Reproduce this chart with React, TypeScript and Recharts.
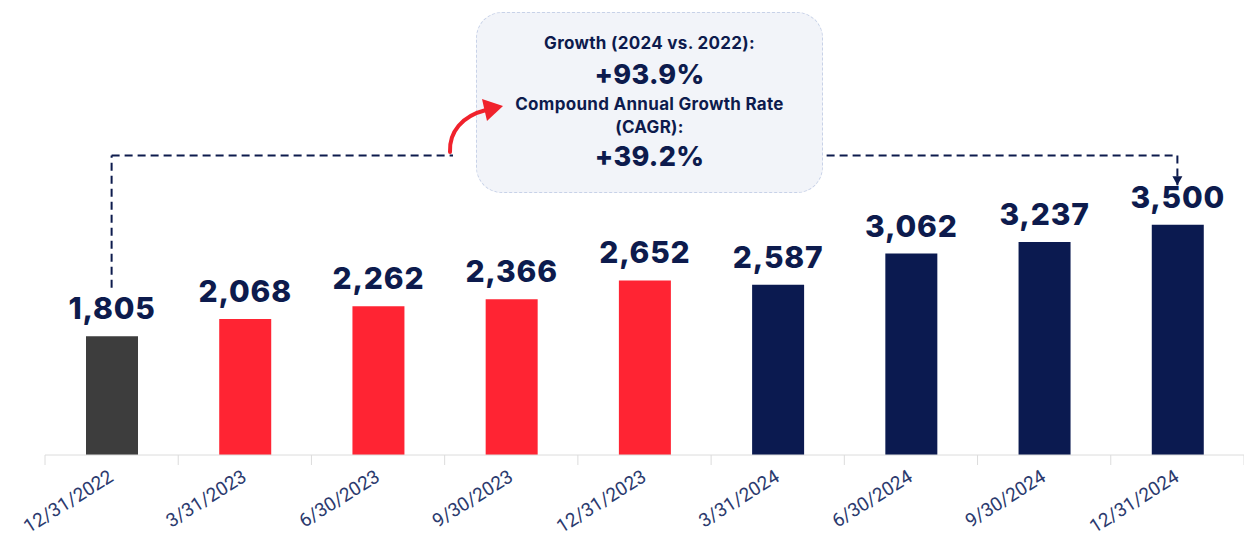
import { Bar, BarChart, Cell, LabelList, ReferenceDot, ReferenceLine, XAxis, YAxis } from 'recharts'

const categories = [
  '12/31/2022',
  '3/31/2023',
  '6/30/2023',
  '9/30/2023',
  '12/31/2023',
  '3/31/2024',
  '6/30/2024',
  '9/30/2024',
  '12/31/2024',
]
const values = [1805, 2068, 2262, 2366, 2652, 2587, 3062, 3237, 3500]
const barColors = ['#3d3d3d', '#ff2433', '#ff2433', '#ff2433', '#ff2433', '#0b1a50', '#0b1a50', '#0b1a50', '#0b1a50']

// connector line levels (data units)
const connectorLevel = 4550
const leftDropEnd = 2540
const rightDropEnd = 4100

const W = 1244
const H = 541
const MARGIN = { top: 126, right: 0, left: 45, bottom: 0 }
const HALF_BAND = (W - MARGIN.left - MARGIN.right) / categories.length / 2

const NAVY = '#0d1b4d'
const data = categories.map((date, i) => ({ date, value: values[i] }))

function DateTick({ x, y, payload, index }: any) {
  const last = index === categories.length - 1
  return (
    <g>
      <line x1={x - HALF_BAND} y1={y - 8} x2={x - HALF_BAND} y2={y + 2} stroke="#dcdcdc" />
      {last && <line x1={x + HALF_BAND} y1={y - 8} x2={x + HALF_BAND} y2={y + 2} stroke="#dcdcdc" />}
      <text
        x={x + 3}
        y={y + 17}
        transform={`rotate(-32, ${x + 3}, ${y + 17})`}
        textAnchor="end"
        fill="#2b3a6e"
        fontFamily="Roboto, sans-serif"
        fontSize={19}
      >
        {payload.value}
      </text>
    </g>
  )
}

function ValueLabel({ x, y, width, value }: any) {
  return (
    <text
      x={x + width / 2}
      y={y - 17}
      textAnchor="middle"
      fill={NAVY}
      fontFamily="Inter, sans-serif"
      fontWeight={800}
      fontSize={30}
      letterSpacing={0.8}
    >
      {Number(value).toLocaleString('en-US')}
    </text>
  )
}

function ArrowHead({ cx, cy }: any) {
  return <path d={`M${cx - 5},${cy - 9} L${cx + 5},${cy - 9} L${cx},${cy} Z`} fill={NAVY} />
}

const line = { stroke: NAVY, strokeWidth: 2, strokeDasharray: '8 5' }

export default function App() {
  return (
    <div style={{ position: 'relative', width: W, height: H, background: '#fff' }}>
      <style>{'body{margin:0}'}</style>
      <BarChart width={W} height={H} data={data} margin={MARGIN}>
        <XAxis
          dataKey="date"
          interval={0}
          height={H - 455}
          axisLine={{ stroke: '#dcdcdc' }}
          tickLine={false}
          tick={<DateTick />}
        />
        <YAxis hide domain={[0, 5000]} />
        <ReferenceLine
          segment={[{ x: categories[0], y: leftDropEnd }, { x: categories[0], y: connectorLevel }]}
          {...line}
        />
        <ReferenceLine
          segment={[{ x: categories[0], y: connectorLevel }, { x: categories[8], y: connectorLevel }]}
          {...line}
        />
        <ReferenceLine
          segment={[{ x: categories[8], y: connectorLevel }, { x: categories[8], y: rightDropEnd }]}
          {...line}
        />
        <ReferenceDot x={categories[8]} y={rightDropEnd} shape={<ArrowHead />} />
        <Bar dataKey="value" barSize={52} isAnimationActive={false}>
          {data.map((d, i) => (
            <Cell key={d.date} fill={barColors[i]} />
          ))}
          <LabelList dataKey="value" content={<ValueLabel />} />
        </Bar>
      </BarChart>

      {/* gap between dashed connector and the callout box */}
      <div style={{ position: 'absolute', left: 453, top: 148, width: 24, height: 16, background: '#fff' }} />

      <div
        style={{
          position: 'absolute',
          left: 476,
          top: 12,
          width: 347,
          height: 181,
          boxSizing: 'border-box',
          borderRadius: 26,
          border: '1px dashed #c8d2e8',
          background: '#f2f4f9',
          color: NAVY,
          fontFamily: 'Inter, sans-serif',
          textAlign: 'center',
          fontWeight: 700,
          letterSpacing: 0.3,
        }}
      >
        <div style={{ position: 'absolute', left: 0, right: 0, top: 20, fontSize: 17 }}>Growth (2024 vs. 2022):</div>
        <div style={{ position: 'absolute', left: 0, right: 0, top: 45, fontSize: 27, fontWeight: 800 }}>+93.9%</div>
        <div style={{ position: 'absolute', left: 0, right: 0, top: 80, fontSize: 17, lineHeight: '23px' }}>
          Compound Annual Growth Rate
          <br />
          (CAGR):
        </div>
        <div style={{ position: 'absolute', left: 0, right: 0, top: 127, fontSize: 27, fontWeight: 800 }}>+39.2%</div>
      </div>

      <svg style={{ position: 'absolute', left: 0, top: 0 }} width={W} height={H}>
        <path d="M450,152 C449,132 462,116 486,110" fill="none" stroke="#f0222c" strokeWidth={4} strokeLinecap="round" />
        <path d="M482,99 L503,106 L487,121 Z" fill="#f0222c" />
      </svg>
    </div>
  )
}
